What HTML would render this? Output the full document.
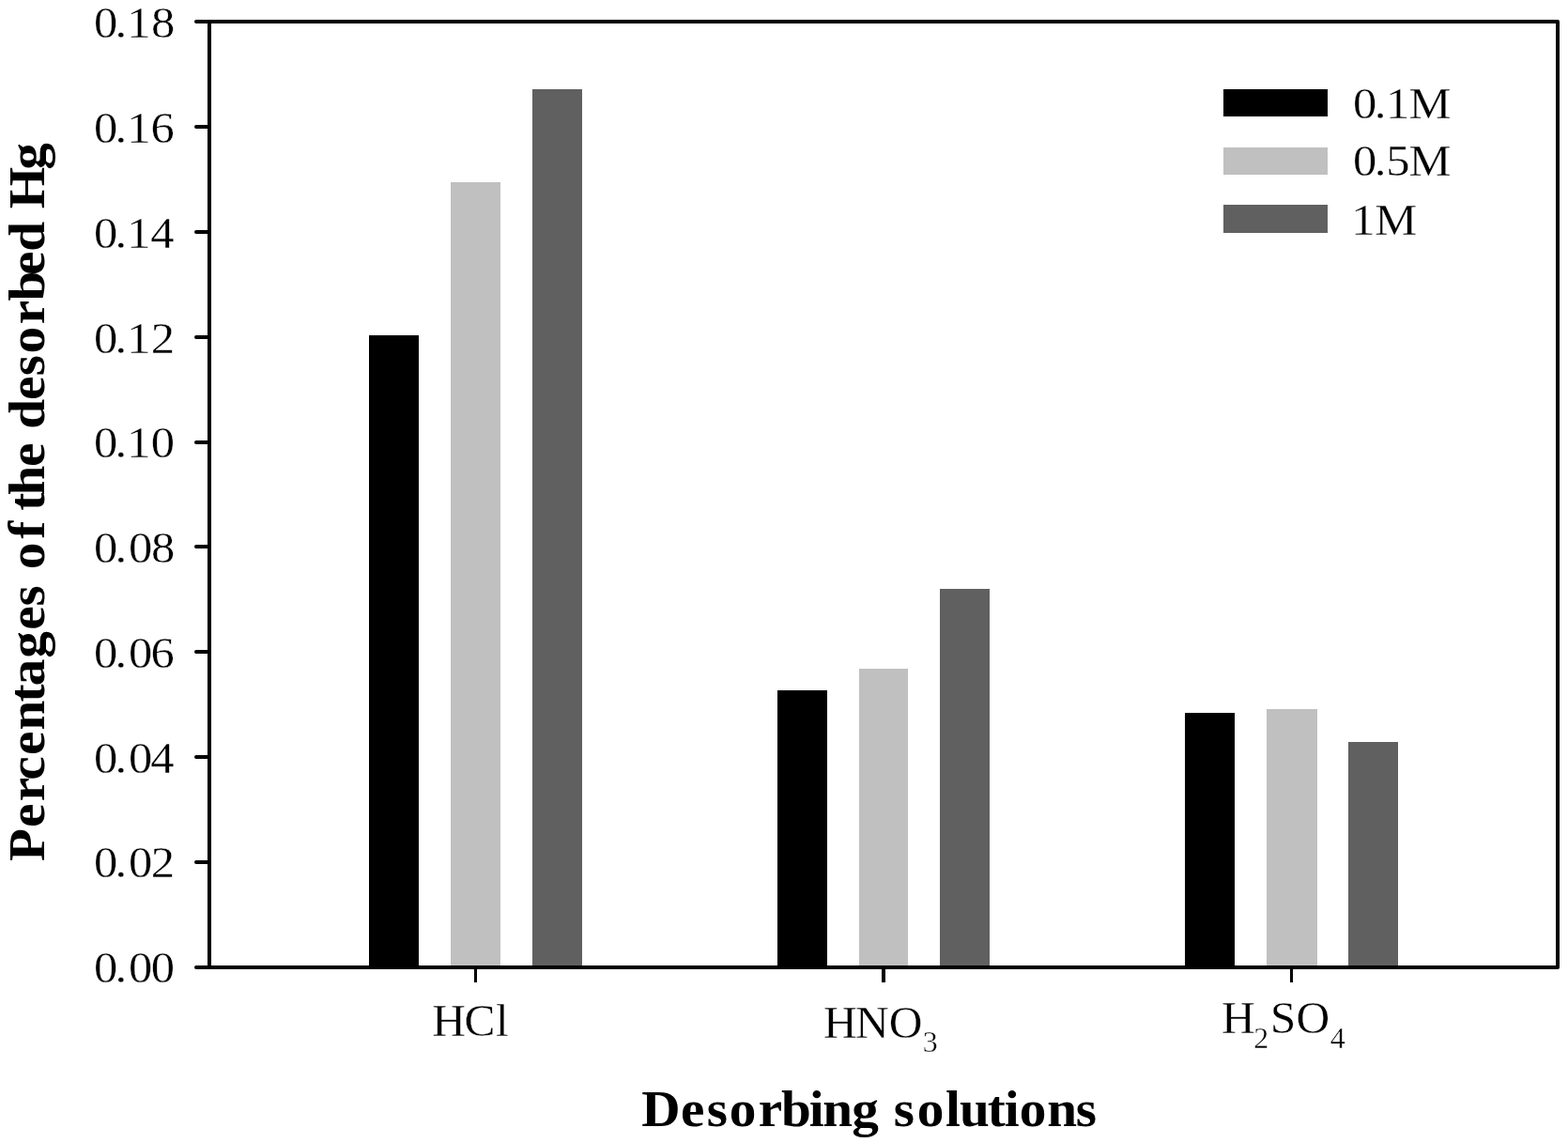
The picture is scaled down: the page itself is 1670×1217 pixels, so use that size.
<!DOCTYPE html>
<html lang="en"><head><meta charset="utf-8"><title>Percentages of the desorbed Hg by desorbing solutions</title>
<style>
html,body{margin:0;padding:0;background:#fff;}
body{width:1670px;height:1217px;overflow:hidden;}
svg{display:block;}
text{font-family:"Liberation Serif","DejaVu Serif",serif;fill:#000;white-space:pre;}
.t{font-size:46px;stroke:#fff;stroke-width:0.3;}
.s{font-size:31px;stroke:#fff;stroke-width:0.35;}
.c{font-size:48px;stroke:#fff;stroke-width:0.3;}
.b{font-size:54.5px;font-weight:bold;}
</style></head><body>
<svg width="1670" height="1217" viewBox="0 0 1670 1217" role="img" aria-label="Bar chart: percentages of the desorbed Hg for HCl, HNO3 and H2SO4 at 0.1M, 0.5M and 1M">
<rect x="0" y="0" width="1670" height="1217" fill="#fff"/>
<g shape-rendering="crispEdges">
<rect x="393" y="357" width="53" height="673" fill="#000000"/>
<rect x="480" y="194" width="53" height="836" fill="#c0c0c0"/>
<rect x="567" y="95" width="53" height="935" fill="#606060"/>
<rect x="828" y="735" width="53" height="295" fill="#000000"/>
<rect x="915" y="712" width="52" height="318" fill="#c0c0c0"/>
<rect x="1001" y="627" width="53" height="403" fill="#606060"/>
<rect x="1262" y="759" width="53" height="271" fill="#000000"/>
<rect x="1349" y="755" width="54" height="275" fill="#c0c0c0"/>
<rect x="1436" y="790" width="53" height="240" fill="#606060"/>
</g>
<g fill="#000" shape-rendering="crispEdges">
<rect x="209" y="21" width="1450" height="4"/>
<rect x="209" y="1028" width="1450" height="4"/>
<rect x="221" y="21" width="4" height="1011"/>
<rect x="1657" y="23" width="4" height="1007"/>
<rect x="209" y="133" width="13" height="4"/>
<rect x="209" y="245" width="13" height="4"/>
<rect x="209" y="357" width="13" height="4"/>
<rect x="209" y="469" width="13" height="4"/>
<rect x="209" y="580" width="13" height="4"/>
<rect x="209" y="692" width="13" height="4"/>
<rect x="209" y="804" width="13" height="4"/>
<rect x="209" y="916" width="13" height="4"/>
<rect x="505" y="1030" width="3" height="16"/>
<rect x="939" y="1030" width="4" height="16"/>
<rect x="1374" y="1030" width="3" height="16"/>
</g>
<g fill="#000">
<circle cx="209" cy="23" r="2"/>
<circle cx="209" cy="135" r="2"/>
<circle cx="209" cy="247" r="2"/>
<circle cx="209" cy="359" r="2"/>
<circle cx="209" cy="471" r="2"/>
<circle cx="209" cy="582" r="2"/>
<circle cx="209" cy="694" r="2"/>
<circle cx="209" cy="806" r="2"/>
<circle cx="209" cy="918" r="2"/>
<circle cx="209" cy="1030" r="2"/>
<circle cx="1659" cy="23" r="2"/>
<circle cx="1659" cy="1030" r="2"/>
</g>
<text class="t" transform="translate(0 40) scale(1.1 1)" x="90.82 111.48 122.95 146.3" y="0">0.18</text>
<text class="t" transform="translate(0 152) scale(1.1 1)" x="90.82 111.48 122.95 145.88" y="0">0.16</text>
<text class="t" transform="translate(0 264) scale(1.1 1)" x="90.82 111.48 122.95 145.64" y="0">0.14</text>
<text class="t" transform="translate(0 375.5) scale(1.1 1)" x="90.82 111.48 122.95 146.12" y="0">0.12</text>
<text class="t" transform="translate(0 487) scale(1.1 1)" x="90.82 111.48 122.95 146.18" y="0">0.10</text>
<text class="t" transform="translate(0 599) scale(1.1 1)" x="90.82 111.48 124.55 146.3" y="0">0.08</text>
<text class="t" transform="translate(0 711) scale(1.1 1)" x="90.82 111.48 124.55 145.88" y="0">0.06</text>
<text class="t" transform="translate(0 823) scale(1.1 1)" x="90.82 111.48 124.55 145.64" y="0">0.04</text>
<text class="t" transform="translate(0 934) scale(1.1 1)" x="90.82 111.48 124.55 146.12" y="0">0.02</text>
<text class="t" transform="translate(0 1046) scale(1.1 1)" x="90.82 111.48 124.55 146.18" y="0">0.00</text>
<text class="c" transform="translate(0 1103.4) scale(1.03 1)" x="446.79 480.11 512.65" y="0">HCl</text>
<text class="c" transform="translate(0 1104.6) scale(1.03 1)" x="851.54 884.37 919.12 954.23" y="0">HNO<tspan class="s" dy="15.4">3</tspan></text>
<text class="c" transform="translate(0 1100.4) scale(1.03 1)" x="1263.21 1296.38 1313.26 1340.36 1375.59" y="0">H<tspan class="s" dy="15.4">2</tspan><tspan dy="-15.4">SO</tspan><tspan class="s" dy="15.4">4</tspan></text>
<g shape-rendering="crispEdges">
<rect x="1303" y="95" width="111" height="29" fill="#000000"/>
<rect x="1303" y="157" width="111" height="29" fill="#c0c0c0"/>
<rect x="1303" y="218" width="111" height="30" fill="#606060"/>
</g>
<text class="t" transform="translate(0 125.8) scale(1.1 1)" x="1310.05 1330.7 1341.72 1364.2" y="0">0.1M</text>
<text class="t" transform="translate(0 187.4) scale(1.1 1)" x="1310.05 1330.7 1341.96 1364.2" y="0">0.5M</text>
<text class="t" transform="translate(0 249.9) scale(1.1 1)" x="1308.31 1331.24" y="0">1M</text>
<text class="b" transform="translate(0 1198.8) scale(1.05 1)" x="650.7 690.56 716.98 739.67 769.32 792.3 820.73 834.45 864.11 891.36 906.35 930.35 959.04 973.31 1001.64 1018.92 1034.01 1062.07 1091.24" y="0">Desorbing solutions</text>
<text class="b" transform="translate(46.8 0) rotate(-90) scale(1.05 1)" x="-873.4 -838.96 -812.69 -791.18 -765.71 -740.52 -711.9 -695.49 -667.5 -638.77 -614.73 -593.52 -577.35 -546.46 -528.32 -517.81 -502.47 -473.44 -449.25 -435 -405.78 -381.31 -358.48 -328.87 -305.33 -279.1 -255.08 -224.77 -211.61 -172.08" y="0">Percentages of the desorbed Hg</text>
</svg>
</body></html>
